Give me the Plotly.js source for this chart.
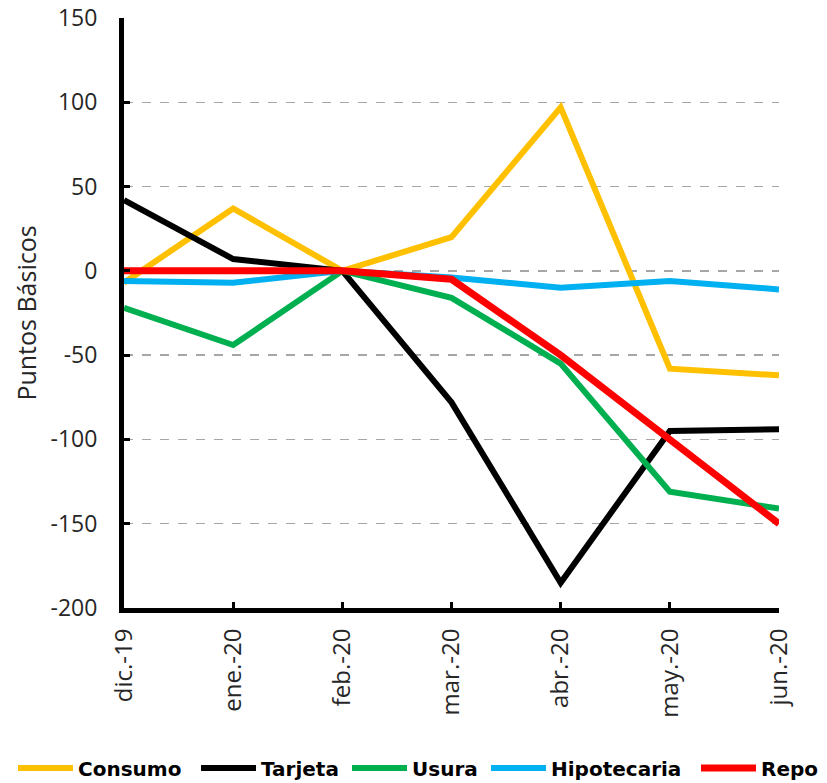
<!DOCTYPE html>
<html>
<head>
<meta charset="utf-8">
<script src="https://cdn.plot.ly/plotly-3.0.1.min.js"></script>
<style>html,body{margin:0;padding:0;background:#fff;}#chart{width:827px;height:783px;}</style>
</head>
<body>
<div id="chart"></div>
<script>
const months = ["dic.-19","ene.-20","feb.-20","mar.-20","abr.-20","may.-20","jun.-20"];
const consumo = [-7, 37, 0, 20, 97, -58, -62];
const tarjeta = [42, 7, 0, -78, -185, -95, -94];
const usura = [-22, -44, 0, -16, -55, -131, -141];
const hipotecaria = [-6, -7, 0, -4, -10, -6, -11];
const repo = [0, 0, 0, -5, -50, -100, -150];
const yTickVals = [-200, -150, -100, -50, 0, 50, 100, 150];
const yTickText = ["-200", "-150", "-100", "-50", "0", "50", "100", "150"];

const seriesNames = ["Consumo","Tarjeta","Usura","Hipotecaria","Repo"];
const seriesData = [consumo, tarjeta, usura, hipotecaria, repo];
const colors = ["#FFC000","#000000","#00B050","#00B0F0","#FF0000"];
const widths = [6, 6, 6, 6, 7];
const legendLeftPx = [18, 201, 352, 491, 701];

const xIdx = months.map((m,i)=>i);
const legendIds = seriesNames.map((n,k)=> k === 0 ? 'legend' : 'legend' + (k+1));
const traces = seriesData.map((d,k)=>({
  type:'scatter', mode:'lines', name: seriesNames[k],
  x: xIdx, y: d,
  line:{color:colors[k], width:widths[k]},
  cliponaxis:false,
  legend: legendIds[k]
}));

const layout = {
  width:827, height:783,
  margin:{l:124, r:48, t:17.5, b:175},
  paper_bgcolor:'#fff', plot_bgcolor:'#fff',
  font:{family:'Open Sans, sans-serif', color:'#262626'},
  showlegend:true,
  xaxis:{
    range:[0,6], tickmode:'array', tickvals:xIdx, ticktext:months,
    tickangle:-90, tickfont:{size:24, color:'#262626'}, ticklabelstandoff:6,
    showline:true, linecolor:'#000', linewidth:5,
    ticks:'inside', ticklen:6, tickwidth:3, tickcolor:'#000',
    showgrid:false, zeroline:false, fixedrange:true
  },
  yaxis:{
    range:[-200,150], tickmode:'array', tickvals:yTickVals, ticktext:yTickText,
    tickfont:{size:23, color:'#262626'}, ticklabelstandoff:17,
    showline:true, linecolor:'#000', linewidth:5,
    ticks:'inside', ticklen:6, tickwidth:3, tickcolor:'#000',
    showgrid:true, gridcolor:'#A6A6A6', gridwidth:1.3, griddash:'dash',
    zeroline:false,
    title:{text:'Puntos Básicos', font:{size:25, color:'#262626'}, standoff:8}
  }
};
legendIds.forEach((id,k)=>{
  layout[id] = {
    orientation:'h', xref:'container', yref:'container',
    x:(legendLeftPx[k]-5)/827, xanchor:'left', y:1-768/783, yanchor:'middle',
    font:{family:'DejaVu Sans, sans-serif', size:20, color:'#000', weight:'bold'},
    itemwidth:55, bgcolor:'rgba(0,0,0,0)', borderwidth:0
  };
});

Plotly.newPlot('chart', traces, layout, {displayModeBar:false, staticPlot:true});
</script>
</body>
</html>
